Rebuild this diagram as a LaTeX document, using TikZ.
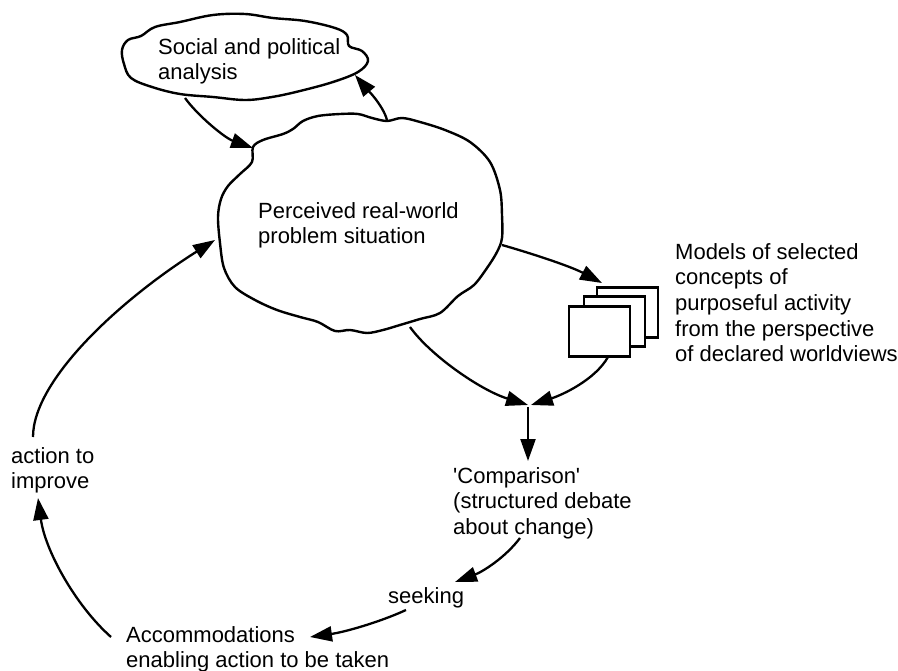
\documentclass[tikz,border=0pt]{standalone}
\usepackage{fontspec}
\setmainfont{Liberation Sans}
\usetikzlibrary{arrows.meta}
\tikzset{
  lbl/.style={anchor=north west, inner sep=0pt, align=left, font=\fontsize{22pt}{25.7pt}\selectfont},
  cloudline/.style={line width=2.4pt, fill=white, line join=round},
  conn/.style={line width=2.3pt, -{Triangle[length=22pt,width=15pt]}},
  modelbox/.style={draw, line width=2.3pt, fill=white, minimum width=61pt, minimum height=50pt, inner sep=0pt}
}
\begin{document}
\begin{tikzpicture}[x=1pt,y=-1pt]
\useasboundingbox (0,0) rectangle (898,671);
\fill[white] (0,0) rectangle (898,671);

% social cloud
\draw[cloudline] plot[smooth cycle, tension=0.6] coordinates {
(122,50) (128,40) (141,36) (155,27) (180,22) (213,15) (245,14) (273,18) (305,21) (335,28)
(347,35) (349,46) (362,51) (368,61) (358,72) (333,82) (300,91) (272,97) (245,100) (213,97)
(180,94) (152,87) (131,78) (124,64)};

% perceived cloud
\draw[cloudline] plot[smooth cycle, tension=0.55] coordinates {
(253,147) (263,140) (283,134) (293,129) (303,121) (318,116) (340,114) (358,114) (372,118)
(387,121) (402,118) (420,122) (445,130) (470,142) (490,162) (500,190) (502,215) (502,238)
(497,252) (487,268) (474,285) (458,296) (440,313) (420,319) (400,325) (383,330) (367,333)
(350,330) (335,331) (318,322) (300,317) (277,310) (255,300) (235,287) (224,268) (220,243)
(218,217) (221,199) (228,186) (240,174) (252,162)};

% model boxes
\node[modelbox] (back) at (627.5,312.5) {};
\node[modelbox] (middle) at (614.5,321.5) {};
\node[modelbox] (front) at (599.5,331.5) {};

% texts
\node[lbl] (social) at (158,38) {Social and political\\analysis};
\node[lbl] (perceived) at (258,202) {Perceived real-world\\problem situation};
\node[lbl] (models) at (675,243) {Models of selected\\concepts of\\purposeful activity\\from the perspective\\of declared worldviews};
\node[lbl] (comparison) at (453,467) {\textquotesingle Comparison\textquotesingle\\(structured debate\\about change)};
\node[lbl] (action) at (11,447) {action to\\improve};
\node[lbl] (seeking) at (388,587) {seeking};
\node[lbl] (accom) at (126,626) {Accommodations\\enabling action to be taken};

% attachment coordinates
\coordinate (socBot) at (185,98);
\coordinate (socRight) at (355,75);
\coordinate (perNotch) at (253,148);
\coordinate (perTop) at (387,120);
\coordinate (perLeft) at (215,240);
\coordinate (perRight) at (502,245);
\coordinate (perBot) at (410,327);
\coordinate (boxIn) at (602,283);
\coordinate (boxOut) at (608,357);
\coordinate (junc) at (528,407);
\coordinate (juncL) at (528,405);
\coordinate (juncR) at (531,405);
\coordinate (compTop) at (528,461);
\coordinate (compOut) at (520,538);
\coordinate (seekIn) at (455,582);
\coordinate (seekOut) at (406,610);
\coordinate (accIn) at (310,637);
\coordinate (accOut) at (111,637);
\coordinate (actIn) at (38,498);
\coordinate (actOut) at (33,437);

% connectors
\draw[conn] (socBot) .. controls (198,116) and (225,138) .. (perNotch);
\draw[conn] (perTop) .. controls (383,105) and (366,88) .. (socRight);
\draw[conn] (actOut) .. controls (33,380) and (120,300) .. (perLeft);
\draw[conn] (accOut) .. controls (75,605) and (45,550) .. (actIn);
\draw[conn] (seekOut) .. controls (380,622) and (345,632) .. (accIn);
\draw[conn] (compOut) .. controls (505,558) and (482,572) .. (seekIn);
\draw[conn] (perRight) .. controls (530,253) and (570,266) .. (boxIn);
\draw[conn] (perBot) .. controls (430,355) and (480,390) .. (juncL);
\draw[conn] (boxOut) .. controls (595,380) and (562,395) .. (juncR);
\draw[conn] (junc) -- (compTop);
\end{tikzpicture}
\end{document}
